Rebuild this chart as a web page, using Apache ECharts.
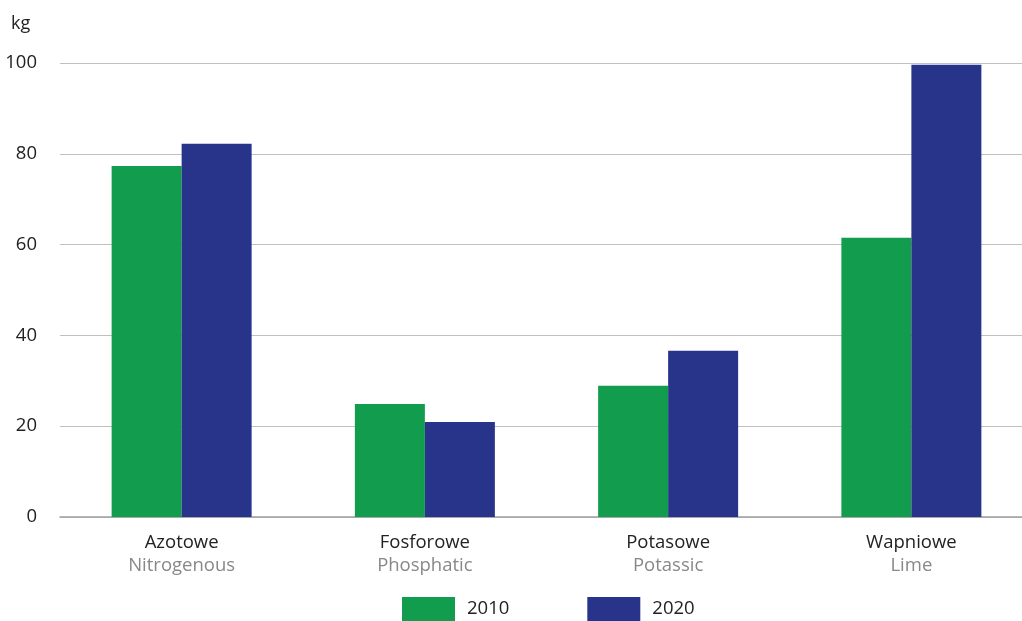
<!DOCTYPE html>
<html>
<head>
<meta charset="utf-8">
<script src="https://cdn.jsdelivr.net/npm/echarts@6/dist/echarts.min.js"></script>
<style>html,body{margin:0;padding:0;background:#fff;overflow:hidden}#c{width:1033px;height:621px}</style>
</head>
<body>
<div id="c"></div>
<script>
const categoriesPL = ['Azotowe', 'Fosforowe', 'Potasowe', 'Wapniowe'];
const categoriesEN = ['Nitrogenous', 'Phosphatic', 'Potassic', 'Lime'];
const values2010 = [77.3, 24.9, 28.9, 61.5];
const values2020 = [82.2, 20.9, 36.6, 99.6];
const seriesNames = ['2010', '2020'];
const unitLabel = 'kg';

const FONT = '"Open Sans", "Noto Sans", sans-serif';
const chart = echarts.init(document.getElementById('c'));
chart.setOption({
  animation: false,
  backgroundColor: '#fff',
  textStyle: { fontFamily: FONT },
  title: {
    text: unitLabel, left: 6, top: 10,
    textStyle: { fontSize: 18, fontWeight: 'normal', color: '#222', fontFamily: FONT }
  },
  grid: { left: 60, right: 0, top: 63, bottom: 104, containLabel: false },
  legend: {
    left: 402, top: 597, padding: 0, itemWidth: 53, itemHeight: 24, itemGap: 78,
    icon: 'rect',
    data: seriesNames,
    textStyle: { fontSize: 18.5, color: '#222', fontFamily: FONT, padding: [0, 0, 0, 7] }
  },
  xAxis: {
    type: 'category',
    data: categoriesPL,
    axisTick: { show: false },
    axisLine: { lineStyle: { color: '#a0a0a0', width: 1.5 } },
    axisLabel: {
      margin: 14,
      formatter: function (v, i) { return '{a|' + v + '}\n{b|' + categoriesEN[i] + '}'; },
      rich: {
        a: { fontSize: 18.5, color: '#222', fontFamily: FONT, lineHeight: 23 },
        b: { fontSize: 18.5, color: '#888', fontFamily: FONT, lineHeight: 23 }
      }
    }
  },
  yAxis: {
    type: 'value', min: 0, max: 100, interval: 20,
    axisLine: { show: false },
    axisTick: { show: false },
    axisLabel: { fontSize: 18.5, color: '#222', margin: 23 },
    splitLine: { lineStyle: { color: '#c0c0c0', width: 1.2 } }
  },
  series: [
    { name: seriesNames[0], type: 'bar', data: values2010, barWidth: 70, barGap: '0%', itemStyle: { color: '#129c4e' } },
    { name: seriesNames[1], type: 'bar', data: values2020, barWidth: 70, barGap: '0%', itemStyle: { color: '#28348a' } }
  ]
});
</script>
</body>
</html>
